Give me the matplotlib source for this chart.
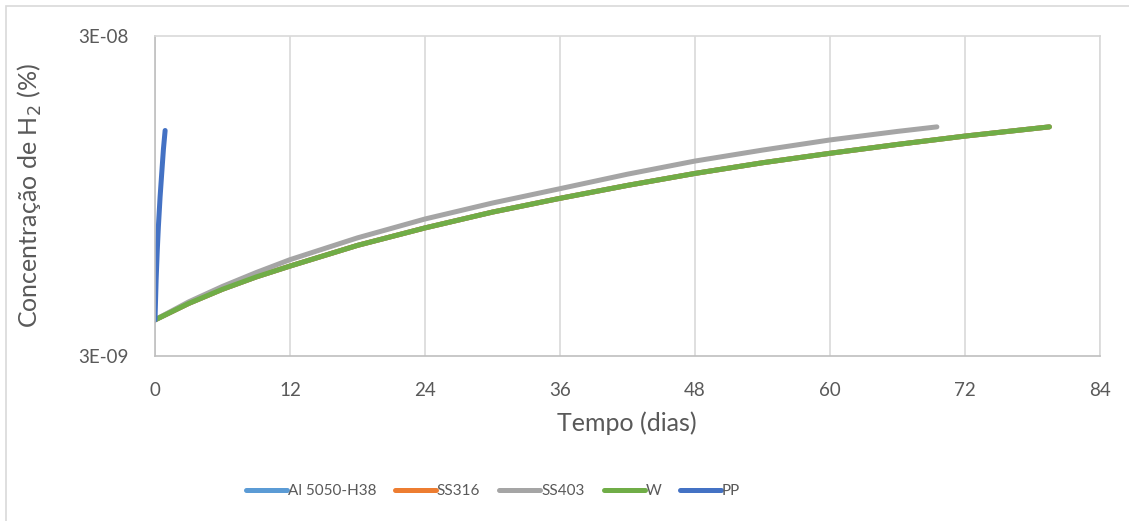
import matplotlib
matplotlib.use("Agg")
import matplotlib.pyplot as plt
from matplotlib.patches import Rectangle
from matplotlib.ticker import FixedLocator, NullLocator

plt.rcParams['font.family'] = ['Lato', 'DejaVu Sans']

# Data
t_w = [0, 3, 6, 9, 12, 18, 24, 30, 36, 42, 48, 54, 60, 66, 72, 79.5]
c_w = [3.89e-9, 4.38e-9, 4.85e-9, 5.3e-9, 5.73e-9, 6.65e-9, 7.54e-9, 8.45e-9, 9.33e-9,
       1.024e-8, 1.116e-8, 1.205e-8, 1.29e-8, 1.375e-8, 1.46e-8, 1.56e-8]
t_al = t_w
c_al = c_w
t_316 = t_w
c_316 = c_w
t_403 = [0, 3, 6, 9, 12, 18, 24, 30, 36, 42, 48, 54, 60, 66, 69.5]
c_403 = [3.89e-9, 4.43e-9, 4.95e-9, 5.47e-9, 6.0e-9, 7.02e-9, 8.04e-9, 9.02e-9, 1.0e-8,
         1.11e-8, 1.22e-8, 1.32e-8, 1.42e-8, 1.51e-8, 1.56e-8]
t_pp = [0, 0.1, 0.2, 0.3, 0.45, 0.6, 0.75, 0.9]
c_pp = [3.89e-9, 5.2e-9, 6.4e-9, 7.6e-9, 9.4e-9, 1.12e-8, 1.33e-8, 1.52e-8]

labels = ['Al 5050-H38', 'SS316', 'SS403', 'W', 'PP']
colors = ['#5B9BD5', '#ED7D31', '#A5A5A5', '#70AD47', '#4472C4']
x_ticks = [0, 12, 24, 36, 48, 60, 72, 84]
y_ticks = [3e-9, 3e-8]
y_tick_labels = ['3E-09', '3E-08']

W, H = 1129, 521
fig = plt.figure(figsize=(W / 100, H / 100), dpi=100)
ax = fig.add_axes([155 / W, 1 - 356 / H, (1100 - 155) / W, (356 - 36) / H])

series = [(t_al, c_al), (t_316, c_316), (t_403, c_403), (t_w, c_w), (t_pp, c_pp)]
for (t, c), lab, col in zip(series, labels, colors):
    ax.plot(t, c, color=col, lw=3.6, label=lab, solid_capstyle='round')

ax.set_yscale('log')
ax.set_ylim(3e-9, 3e-8)
ax.set_xlim(0, 84)
ax.yaxis.set_major_locator(FixedLocator(y_ticks))
ax.yaxis.set_minor_locator(NullLocator())
ax.set_yticklabels(y_tick_labels)
ax.set_xticks(x_ticks)
ax.set_xticklabels([str(v) for v in x_ticks])
ax.tick_params(axis='both', length=0, labelsize=13.5, colors='#595959')
ax.tick_params(axis='x', pad=19)
ax.tick_params(axis='y', pad=19)

ax.grid(axis='x', color='#d9d9d9', lw=1.2)
ax.set_axisbelow(True)
for s in ['top', 'right']:
    ax.spines[s].set_color('#d9d9d9')
    ax.spines[s].set_linewidth(1.2)
for s in ['left', 'bottom']:
    ax.spines[s].set_color('#bfbfbf')
    ax.spines[s].set_linewidth(1.2)

fig.text(626.5 / W, 1 - 423 / H, 'Tempo (dias)', fontsize=18, color='#595959',
         ha='center', va='center')
fig.text(30 / W, 1 - 196 / H, 'Concentração de H$_2$ (%)', fontsize=18, color='#595959',
         ha='center', va='center', rotation=90)

leg = fig.legend(loc='center', bbox_to_anchor=(493 / W, 1 - 491 / H), ncol=5,
                 frameon=False, fontsize=11, handlelength=2.68, handletextpad=0.05,
                 columnspacing=1.25)
for txt in leg.get_texts():
    txt.set_color('#595959')

fig.patches.append(Rectangle((6 / W, -0.1), 1.2, 1 - 6 / H + 0.1, transform=fig.transFigure,
                             fill=False, edgecolor='#d9d9d9', lw=1.2))

fig.savefig('out.png', dpi=100, facecolor='white')
